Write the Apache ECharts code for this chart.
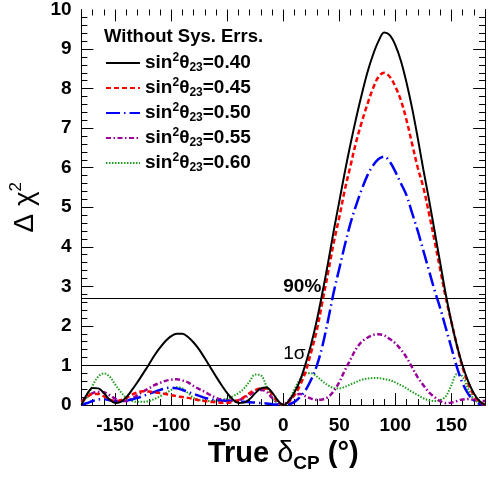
<!DOCTYPE html>
<html>
<head>
<meta charset="utf-8">
<script src="https://cdn.jsdelivr.net/npm/echarts@6/dist/echarts.min.js"></script>
<style>
html, body { margin: 0; padding: 0; background: #fff; }
#chart { width: 488px; height: 480px; }
</style>
</head>
<body>
<div id="chart"></div>
<script>
// true delta_CP (deg), 5 degree steps
var deltaCP = [];
for (var d = -180; d <= 180; d += 5) deltaCP.push(d);

var s040 = [0.0, 0.28, 0.43, 0.42, 0.3, 0.14, 0.05, 0.08, 0.2, 0.38, 0.58, 0.8, 1.02, 1.25, 1.45, 1.62, 1.74, 1.8, 1.8, 1.72, 1.58, 1.4, 1.18, 0.95, 0.72, 0.5, 0.3, 0.14, 0.05, 0.06, 0.15, 0.3, 0.42, 0.44, 0.32, 0.12,
	0.0, 0.1, 0.32, 0.62, 1.05, 1.55, 2.15, 2.85, 3.6, 4.4, 5.15, 5.9, 6.6, 7.25, 7.85, 8.4, 8.85, 9.2, 9.42, 9.35, 9.1, 8.7, 8.15, 7.5, 6.75, 5.95, 5.2, 4.4, 3.6, 2.8, 2.1, 1.5, 1.0, 0.6, 0.3, 0.1, 0.0];
var s045 = [0.08, 0.2, 0.28, 0.28, 0.22, 0.14, 0.1, 0.12, 0.18, 0.26, 0.32, 0.35, 0.34, 0.32, 0.3, 0.28, 0.25, 0.22, 0.2, 0.18, 0.15, 0.12, 0.1, 0.08, 0.07, 0.06, 0.06, 0.08, 0.12, 0.2, 0.3, 0.38, 0.42, 0.42, 0.28, 0.1,
	0.0, 0.08, 0.25, 0.5, 0.85, 1.35, 1.9, 2.62, 3.35, 4.1, 4.75, 5.45, 6.05, 6.65, 7.15, 7.6, 8.0, 8.3, 8.4, 8.3, 8.05, 7.7, 7.2, 6.6, 6.0, 5.5, 4.85, 4.15, 3.43, 2.71, 2.1, 1.5, 0.95, 0.55, 0.25, 0.08, 0.0];
var s050 = [0.0, 0.05, 0.1, 0.14, 0.15, 0.12, 0.1, 0.1, 0.11, 0.14, 0.18, 0.23, 0.28, 0.33, 0.38, 0.42, 0.44, 0.42, 0.38, 0.33, 0.28, 0.23, 0.18, 0.15, 0.12, 0.11, 0.1, 0.09, 0.08, 0.08, 0.07, 0.06, 0.05, 0.04, 0.02, 0.01,
	0.0, 0.02, 0.08, 0.2, 0.38, 0.65, 1.0, 1.5, 2.15, 2.85, 3.45, 4.05, 4.6, 5.05, 5.45, 5.8, 6.05, 6.22, 6.28, 6.15, 5.9, 5.6, 5.3, 4.85, 4.4, 3.9, 3.4, 2.9, 2.45, 1.95, 1.45, 0.95, 0.55, 0.28, 0.12, 0.03, 0.0];
var s055 = [0.1, 0.22, 0.3, 0.33, 0.32, 0.25, 0.16, 0.11, 0.1, 0.16, 0.25, 0.34, 0.42, 0.5, 0.56, 0.61, 0.64, 0.65, 0.62, 0.57, 0.48, 0.4, 0.33, 0.25, 0.18, 0.14, 0.12, 0.11, 0.12, 0.18, 0.26, 0.34, 0.38, 0.34, 0.18, 0.06,
	0.02, 0.12, 0.25, 0.28, 0.22, 0.16, 0.13, 0.14, 0.2, 0.35, 0.58, 0.88, 1.15, 1.42, 1.6, 1.7, 1.77, 1.79, 1.76, 1.67, 1.56, 1.4, 1.2, 0.95, 0.7, 0.5, 0.32, 0.2, 0.1, 0.05, 0.06, 0.1, 0.14, 0.15, 0.13, 0.11, 0.1];
var s060 = [0.05, 0.2, 0.5, 0.72, 0.8, 0.72, 0.52, 0.33, 0.18, 0.1, 0.08, 0.08, 0.1, 0.15, 0.22, 0.3, 0.38, 0.45, 0.42, 0.3, 0.18, 0.13, 0.11, 0.1, 0.11, 0.13, 0.16, 0.22, 0.3, 0.42, 0.6, 0.77, 0.75, 0.48, 0.2, 0.05,
	0.0, 0.12, 0.4, 0.65, 0.8, 0.8, 0.72, 0.6, 0.5, 0.43, 0.42, 0.46, 0.52, 0.58, 0.64, 0.67, 0.68, 0.68, 0.66, 0.63, 0.57, 0.5, 0.42, 0.33, 0.25, 0.17, 0.12, 0.1, 0.12, 0.22, 0.5, 0.78, 0.72, 0.4, 0.15, 0.06, 0.05];

var seriesNames = ['0.40', '0.45', '0.50', '0.55', '0.60'];
var xTicks = [-150, -100, -50, 0, 50, 100, 150];
var clLevels = [2.71, 1];
var clLabels = ['90%', '1σ'];

// tick positions for the ROOT style frame (ticks on all four sides)
var xMajor = xTicks.slice();
var xMinor = [];
for (var t = -170; t <= 170; t += 10) if (t % 50 !== 0) xMinor.push(t);
var yMajor = [1, 2, 3, 4, 5, 6, 7, 8, 9];
var yMinor = [];
for (var k = 1; k < 50; k++) if (k % 5 !== 0) yMinor.push(k / 5);

var FONT = 'Liberation Sans, Arial, Helvetica, sans-serif';

function pairs(ys) {
	return deltaCP.map(function(x, i) { return [x, ys[i]]; });
}

function xAxisCfg(pos, labels) {
	return {
		type: 'value', position: pos,
		min: -180, max: 180, interval: 10,
		axisLine: { show: true, lineStyle: { color: '#000', width: 1 } },
		axisTick: { show: false },
		axisLabel: labels ? {
			margin: 11, color: '#000',
			fontFamily: FONT, fontWeight: 'bold', fontSize: 19,
			formatter: function(v) { return v % 50 === 0 && Math.abs(v) < 180 ? String(v) : ''; }
		} : { show: false },
		splitLine: { show: false }
	};
}

function yAxisCfg(pos, labels) {
	return {
		type: 'value', position: pos,
		min: 0, max: 10, interval: 1,
		axisLine: { show: true, onZero: false, lineStyle: { color: '#000', width: 1 } },
		axisTick: { show: false },
		axisLabel: labels ? { margin: 10, color: '#000', fontFamily: FONT, fontWeight: 'bold', fontSize: 19 } : { show: false },
		splitLine: { show: false }
	};
}

// inward tick segments, lengths converted from pixels to axis units (1 unit y ~ 39.8px, 1 deg ~ 1.134px)
var tickSegs = [];
function addXTicks(vals, px) {
	var dy = px / 39.8;
	vals.forEach(function(v) {
		tickSegs.push([{ coord: [v, 0] }, { coord: [v, dy] }]);
		tickSegs.push([{ coord: [v, 10] }, { coord: [v, 10 - dy] }]);
	});
}
function addYTicks(vals, px) {
	var dx = px / 1.134;
	vals.forEach(function(v) {
		tickSegs.push([{ coord: [-180, v] }, { coord: [-180 + dx, v] }]);
		tickSegs.push([{ coord: [180, v] }, { coord: [180 - dx, v] }]);
	});
}
addXTicks(xMajor, 12);
addXTicks(xMinor, 6);
addYTicks(yMajor, 12);
addYTicks(yMinor, 6);

var xBottom = xAxisCfg('bottom', true);
xBottom.name = '{b|True }{d|δ}{s|CP}{b| (°)}';
xBottom.nameLocation = 'middle';
xBottom.nameGap = 32;
xBottom.nameTextStyle = {
	color: '#000',
	rich: {
		b: { fontFamily: FONT, fontWeight: 'bold', fontSize: 29, color: '#000', verticalAlign: 'top' },
		d: { fontFamily: FONT, fontSize: 29, color: '#000', verticalAlign: 'top' },
		s: { fontFamily: FONT, fontWeight: 'bold', fontSize: 19, color: '#000', verticalAlign: 'bottom', padding: [14, 0, 0, 0] }
	}
};

var yLeft = yAxisCfg('left', true);
yLeft.name = '{a|Δ χ}{p|2}';
yLeft.nameLocation = 'middle';
yLeft.nameGap = 33;
yLeft.nameTextStyle = {
	color: '#000',
	rich: {
		a: { fontFamily: FONT, fontSize: 28, color: '#000' },
		p: { fontFamily: FONT, fontSize: 17, color: '#000', padding: [0, 0, 18, 0] }
	}
};

var colors = ['#000000', '#ff0000', '#0000ff', '#990099', '#1f9f1f'];
var dashes = ['solid', [5, 3], [14, 4, 1.5, 4], [5, 2.5, 1.5, 2.5], [1.5, 1.5]];
var widths = [2, 2.5, 2.5, 2.5, 2];
var dataSets = [s040, s045, s050, s055, s060];

var series = dataSets.map(function(ys, i) {
	return {
		name: seriesNames[i],
		type: 'line',
		data: pairs(ys),
		smooth: 0.35,
		showSymbol: false,
		symbol: 'none',
		z: 10 - i,
		lineStyle: { color: colors[i], width: widths[i], type: dashes[i] },
		itemStyle: { color: colors[i] }
	};
});

series[0].markLine = {
	silent: true,
	symbol: ['none', 'none'],
	label: { show: false },
	lineStyle: { color: '#000', width: 1, type: 'solid' },
	data: clLevels.map(function(v) { return { yAxis: v, lineStyle: { width: 1.2 } }; }).concat(tickSegs)
};
series[0].markPoint = {
	silent: true,
	symbol: 'circle',
	symbolSize: 0,
	data: clLevels.map(function(v, i) {
		return {
			coord: [0, v],
			label: {
				show: true, formatter: clLabels[i], position: [0, -2],
				align: 'left', verticalAlign: 'bottom',
				color: '#000', fontFamily: FONT, fontWeight: i === 0 ? 'bold' : 'normal', fontSize: 19
			}
		};
	})
};

var chart = echarts.init(document.getElementById('chart'));
chart.setOption({
	backgroundColor: '#fff',
	animation: false,
	title: {
		text: 'Without Sys. Errs.', left: 99, top: 22,
		textStyle: { fontFamily: FONT, fontWeight: 'bold', fontSize: 18.5, color: '#000' }
	},
	legend: {
		orient: 'vertical', left: 100, top: 47,
		itemWidth: 34, itemHeight: 14, itemGap: 3,
		itemStyle: { color: 'rgba(0,0,0,0)', borderColor: 'rgba(0,0,0,0)', borderWidth: 0 },
		data: seriesNames,
		formatter: function(name) { return '{t|sin}{p|2}{t|θ}{s|23}{t|=' + name + '}'; },
		textStyle: {
			color: '#000',
			rich: {
				t: { fontFamily: FONT, fontWeight: 'bold', fontSize: 19, color: '#000', lineHeight: 22 },
				p: { fontFamily: FONT, fontWeight: 'bold', fontSize: 12, color: '#000', verticalAlign: 'top', lineHeight: 22, padding: [0, 0, 6, 0] },
				s: { fontFamily: FONT, fontWeight: 'bold', fontSize: 12, color: '#000', verticalAlign: 'bottom', lineHeight: 22, padding: [8, 0, 0, 0] }
			}
		}
	},
	grid: { left: 79, right: 2, top: 7, bottom: 75 },
	xAxis: [xBottom, xAxisCfg('top', false)],
	yAxis: [yLeft, yAxisCfg('right', false)],
	series: series
});
</script>
</body>
</html>
